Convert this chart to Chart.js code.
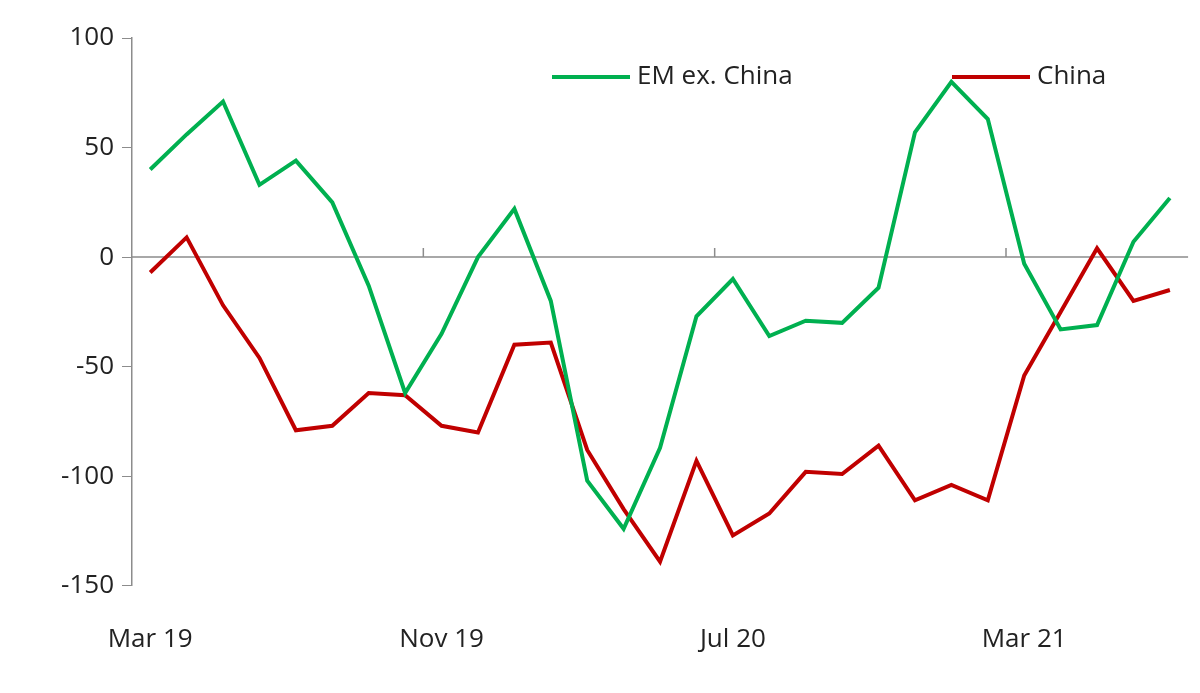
<!DOCTYPE html>
<html><head><meta charset="utf-8">
<script src="https://cdn.jsdelivr.net/npm/chart.js@4"></script>
<style>body{margin:0;background:#fff}#w{width:1200px;height:693px}</style>
</head><body><div id="w"><canvas id="c"></canvas></div>
<script>
const months=['Jan','Feb','Mar','Apr','May','Jun','Jul','Aug','Sep','Oct','Nov','Dec'];
const labels=[];for(let i=0;i<29;i++){const m=(2+i)%12,y=19+Math.floor((2+i)/12);labels.push(months[m]+' '+y);}
const emExChina=[40,56,71,33,44,25,-13,-62,-35,0,22,-20,-102,-124,-87,-27,-10,-36,-29,-30,-14,57,80,63,-3,-33,-31,7,27];
const china=[-7,9,-22,-46,-79,-77,-62,-63,-77,-80,-40,-39,-88,-115,-139,-93,-127,-117,-98,-99,-86,-111,-104,-111,-54,-25,4,-20,-15];
const shownTicks=['Mar 19','Nov 19','Jul 20','Mar 21'];
const zeroAxis={id:'za',beforeDatasetsDraw(ch){const x=ch.scales.x,y=ch.scales.y,c=ch.ctx;const y0=y.getPixelForValue(0);c.save();c.strokeStyle='#8c8c8c';c.lineWidth=1.5;c.beginPath();c.moveTo(ch.chartArea.left,y0);c.lineTo(ch.chartArea.right,y0);
labels.forEach((l,i)=>{if(i>0&&i%8===0){const px=(x.getPixelForValue(i-1)+x.getPixelForValue(i))/2;c.moveTo(px,y0);c.lineTo(px,y0-9);}});c.stroke();c.restore();},
afterDatasetsDraw(ch){const c=ch.ctx;const pos=[[552,'#00b050'],[952,'#c00000']];c.save();c.font='26px "Open Sans"';c.fillStyle='#222';c.textBaseline='middle';
ch.data.datasets.forEach((d,i)=>{const [x0,col]=pos[i];c.strokeStyle=col;c.lineWidth=4;c.beginPath();c.moveTo(x0,77);c.lineTo(x0+78,77);c.stroke();c.fillText(d.label,x0+85,77);});c.restore();}};
new Chart(document.getElementById('c'),{type:'line',data:{labels,datasets:[
{label:'EM ex. China',data:emExChina,borderColor:'#00b050',backgroundColor:'#00b050',borderWidth:4,pointRadius:0,tension:0},
{label:'China',data:china,borderColor:'#c00000',backgroundColor:'#c00000',borderWidth:4,pointRadius:0,tension:0}]},
options:{responsive:true,maintainAspectRatio:false,animation:false,
layout:{padding:{left:0,right:7,top:38,bottom:8}},
plugins:{legend:{display:false},tooltip:{enabled:false}},
scales:{x:{offset:true,grid:{display:false,offset:true},border:{display:false},ticks:{autoSkip:false,maxRotation:0,color:'#222',font:{family:'Open Sans',size:26},padding:30,callback:(v,i)=>shownTicks.includes(labels[i])?labels[i]:''}},
y:{min:-150,max:100,afterFit(s){s.width=132;},grid:{drawOnChartArea:false,drawTicks:true,tickLength:10,color:'#8c8c8c'},border:{display:true,color:'#8c8c8c',width:1.5},ticks:{stepSize:50,color:'#222',font:{family:'Open Sans',size:26},padding:8}}}},
plugins:[zeroAxis]});
</script></body></html>
